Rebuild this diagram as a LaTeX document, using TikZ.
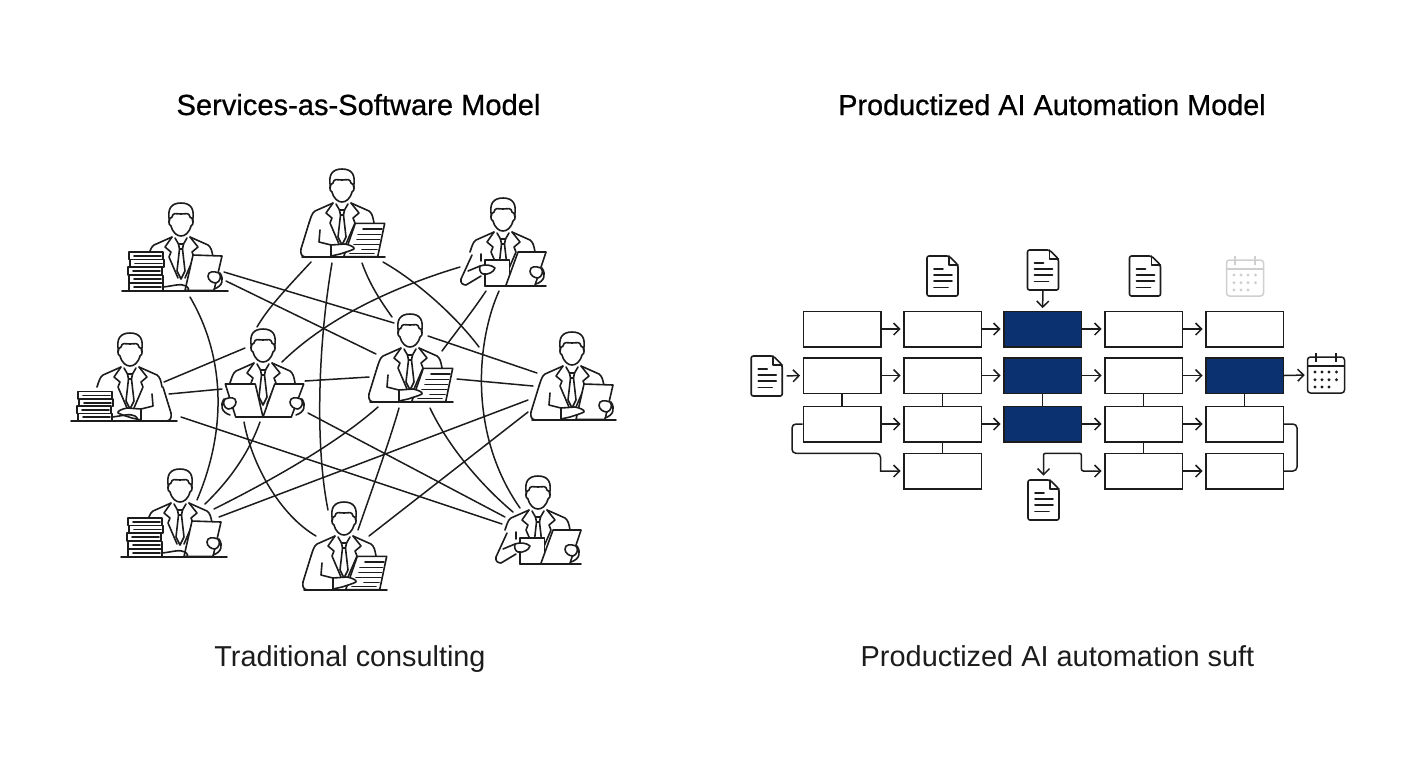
\documentclass[tikz,border=0pt]{standalone}
\usepackage{fontspec}
\setmainfont{Liberation Sans}
\newfontfamily\headfont[FakeBold=0.7]{Liberation Sans}
\usetikzlibrary{arrows.meta, calc}
\definecolor{inkline}{HTML}{1C1C1C}
\definecolor{navybox}{HTML}{0B3170}
\definecolor{greyicon}{HTML}{CFCFCF}
\tikzset{
    fig/.style={inkline, line width=0.8pt, line join=round, line cap=round},
    link/.style={inkline, line width=0.75pt, line cap=round},
    flowbox/.style={draw=inkline, fill=white, line width=0.75pt, minimum width=38.75pt, minimum height=17.75pt, inner sep=0pt},
    flowdark/.style={flowbox, fill=navybox},
    flow/.style={inkline, line width=0.75pt, -{Straight Barb[length=3pt,width=6pt]}, shorten >=1.2pt},
    stub/.style={inkline, line width=0.75pt},
    %Head, torso and shoulders, origin on the desk under the chin:
    pics/man/.style={code={
        \draw[fig] (-11.5,-70) .. controls (-14,-82) and (-10,-88) .. (0,-88) .. controls (10,-88) and (14,-82) .. (11.5,-70);
        \draw[fig] (-9,-74) .. controls (-8,-79) and (-5,-77) .. (0,-77) .. controls (5,-77) and (8,-79) .. (9,-74)
            .. controls (13,-73) and (13,-66) .. (10,-65) .. controls (8,-58) and (4,-55) .. (0,-55)
            .. controls (-4,-55) and (-8,-58) .. (-10,-65) .. controls (-13,-66) and (-13,-73) .. (-9,-74);
        \draw[fig] (-9,-54) -- (-27,-46) .. controls (-30,-44) and (-31,-40) .. (-33,-34);
        \draw[fig] (9,-54) -- (27,-46) .. controls (30,-44) and (31,-40) .. (32,-34);
        \draw[fig] (-9,-54) -- (-16,-44) -- (-10,-39) -- (-12,-34) -- (-3,-13);
        \draw[fig] (9,-54) -- (17,-44) -- (11,-39) -- (13,-34) -- (4,-13);
        \draw[fig] (-6,-53) -- (-2.5,-47) -- (2.5,-47) -- (6,-53);
        \draw[fig] (-2.5,-47) -- (-1.5,-42) -- (1.5,-42) -- (2.5,-47);
        \draw[fig] (-1.5,-42) -- (-4,-20) -- (0,-12) -- (4,-20) -- (1.5,-42);
    }},
    pics/armleft/.style={code={
        \draw[fig] (-33,-34) -- (-41,-8) .. controls (-42,-3) and (-40,0) .. (-36,0);
        \draw[fig] (-22,-27) -- (-23,-15) -- (-11,-12);
        \fill[white] (-11,-12) -- (3,-13) .. controls (8,-12) and (13,-10) .. (12,-8) .. controls (8,-6) and (4,-5) .. (-2,-3) -- (-11,-1);
        \draw[fig] (-11,0) -- (-11,-12) -- (3,-13) .. controls (8,-12) and (13,-10) .. (12,-8) .. controls (8,-6) and (4,-5) .. (-2,-3) -- (-11,-1);
    }},
    pics/desk/.style 2 args={code={\draw[fig] (#1,0) -- (#2,0);}},
    pics/linedpaper/.style={code={
        \draw[fig, fill=white] (13.3,-33.7) -- (42.7,-33.7) -- (35.7,-0.3) -- (1.7,-0.3) -- cycle;
        \foreach \ya/\xa/\xb in {-28/21/40, -22.7/16/38.5, -17.7/15/37.5, -12.7/12/37, -7.7/20/35, -3.7/8/32}
            \draw[fig] (\xa,\ya) -- (\xb,\ya);
    }},
    pics/clipboard/.style={code={
        \draw[fig, fill=white] (12,-36) -- (41,-35) -- (33,-0.5) -- (4,-0.5) -- cycle;
    }},
    pics/grip/.style={code={
        \draw[fig, fill=white] (27,-15) .. controls (27,-20) and (33,-20) .. (38,-18) .. controls (41,-15) and (39,-9) .. (35,-8) .. controls (31,-8) and (27,-11) .. (27,-15);
        \draw[fig] (39,-18) .. controls (43,-12) and (42,-5) .. (33,-2);
    }},
    pics/books/.style={code={
        \foreach \ya/\xa in {#1} {
            \draw[fig, fill=white] (\xa-53,\ya) rectangle (\xa-19,\ya+7.6);
            \draw[fig] (\xa-48,\ya+3.8) -- (\xa-21,\ya+3.8);
        }
    }},
    pics/restinghand/.style={code={
        \draw[fig] (-18,-4) .. controls (-8,-5) and (0,-8) .. (5,-5) .. controls (8,-3) and (8,-1) .. (7,0);
    }},
    pics/pointing/.style={code={
        \draw[fig, fill=white] (-18,-26) rectangle (6.5,0);
        \draw[fig, fill=white] (15,-34) -- (43,-34) -- (31.7,0) -- (2.7,0) -- cycle;
        \draw[fig] (-31,-31) -- (-42,-7) .. controls (-43,-3) and (-40,-1) .. (-37,-1) -- (-22,-10);
        \draw[fig] (-22,-32) -- (-22,-25);
        \draw[fig, fill=white] (-23,-20) .. controls (-18,-22) and (-11,-21) .. (-8,-18) .. controls (-9,-14) and (-15,-11) .. (-20,-12) .. controls (-23,-13) and (-24,-17) .. (-23,-20);
        \draw[fig] (-35,-15) -- (-23,-20);
    }},
    %Variants of the man, one for each thing he holds:
    pics/paperman/.style={code={\pic {man}; \pic {linedpaper}; \pic {armleft}; \pic {desk={-40}{43}};}},
    pics/stackman/.style={code={\pic {man}; \pic {books={-39/1,-31.4/2,-23.8/0,-15.6/1,-7.8/1}}; \pic {clipboard}; \pic {grip}; \pic {restinghand}; \pic {desk={-59}{47}};}},
    pics/boardman/.style={code={\pic {man}; \pic {clipboard}; \pic {armleft}; \pic {grip}; \pic {desk={-40}{44}};}},
    pics/pileman/.style={code={\pic {man}; \pic[xscale=-1] {armleft}; \pic {books={-29.5/1,-22/2,-15/0,-7.6/1}}; \pic {restinghand}; \pic {desk={-59}{47}};}},
    pics/pointman/.style={code={\pic {man}; \pic {pointing}; \pic {grip}; \pic {desk={-18}{43}};}},
    pics/twoboardman/.style={code={
        \pic {man};
        \draw[fig, fill=white] (-37.7,-33) -- (-7.7,-33) -- (0,0) -- (-27.3,0) -- cycle;
        \draw[fig, fill=white] (11.7,-33) -- (40.7,-33) -- (28.3,0) -- (0,0) -- cycle;
        \pic {grip}; \pic[xscale=-1] {grip}; \pic {desk={-27}{28}};
    }},
    pics/docicon/.style={code={
        \node[minimum width=15.5pt, minimum height=20pt, inner sep=0pt] (-box) at (0,0) {};
        \draw[fig, rounded corners=1pt, fill=white] (-15.5,-20) -- (6.5,-20) -- (15.5,-11) -- (15.5,20) -- (-15.5,20) -- cycle;
        \draw[fig] (6.5,-20) -- (6.5,-11) -- (15.5,-11);
        \draw[fig] (-8.5,-7.3) -- (0.5,-7.3);
        \draw[fig] (-8.5,-1) -- (9.5,-1);
        \draw[fig] (-8.5,5) -- (9.5,5);
        \draw[fig] (-8.5,11.3) -- (5.5,11.3);
    }},
    pics/calicon/.style={code={
        \node[minimum width=18.5pt, minimum height=18pt, inner sep=0pt] (-box) at (0,0) {};
        \draw[#1, line width=0.75pt, rounded corners=1.5pt] (-18.5,-18) rectangle (18.5,18);
        \draw[#1, line width=0.75pt] (-18.5,-9) -- (18.5,-9);
        \draw[#1, line width=0.75pt] (-10,-22) -- (-10,-13);
        \draw[#1, line width=0.75pt] (10,-22) -- (10,-13);
        \foreach \xa in {-11,-4,3,10.5} {
            \fill[#1] (\xa,-3) circle (0.8pt);
            \fill[#1] (\xa,4.7) circle (0.8pt);
        }
        \foreach \xa in {-11,-4,3}
            \fill[#1] (\xa,12) circle (0.8pt);
    }},
}

\begin{document}
\begin{tikzpicture}[x=0.5pt, y=-0.5pt]
    \useasboundingbox (0,0) rectangle (1408,768);
    %Headings and captions:
    \node[font=\headfont\fontsize{14.55pt}{16pt}\selectfont, text=black, anchor=base] (headleft) at (358.5,115) {Services-as-Software Model};
    \node[font=\headfont\fontsize{14.4pt}{16pt}\selectfont, text=black, anchor=base] (headright) at (1052,115) {Productized AI Automation Model};
    \node[font=\fontsize{14.4pt}{16pt}\selectfont, text=inkline, anchor=base] (captleft) at (350,666) {Traditional consulting};
    \node[font=\fontsize{14.45pt}{16pt}\selectfont, text=inkline, anchor=base] (captright) at (1057.5,666) {Productized AI automation suft};

    %The people, coordinate on the desk under each head:
    \coordinate (manTL) at (181,291);
    \coordinate (manT) at (342,257);
    \coordinate (manTR) at (503,286);
    \coordinate (manL) at (130,421);
    \coordinate (manCL) at (263,417);
    \coordinate (manC) at (410,402);
    \coordinate (manR) at (572,420);
    \coordinate (manBL) at (180,557);
    \coordinate (manB) at (344,590);
    \coordinate (manBR) at (538,564);
    \pic at (manTL) {stackman};
    \pic at (manT) {paperman};
    \pic at (manTR) {pointman};
    \pic at (manL) {pileman};
    \pic at (manCL) {twoboardman};
    \pic at (manC) {paperman};
    \pic at (manR) {boardman};
    \pic at (manBL) {stackman};
    \pic at (manB) {paperman};
    \pic at (manBR) {pointman};

    %Tangle between the people:
    \draw[link] ($(manTL)+(43,-19)$) -- ($(manC)+(-16,-79)$);
    \draw[link] ($(manTL)+(45,-10)$) -- ($(manC)+(-34,-48)$);
    \draw[link] ($(manTL)+(9,6)$) .. controls (224,355) and (228,427) .. ($(manBL)+(17,-57)$);
    \draw[link] ($(manT)+(-31,5)$) .. controls (285,290) and (268,308) .. ($(manCL)+(-6,-90)$);
    \draw[link] ($(manT)+(-10,6)$) .. controls (318,345) and (315,445) .. ($(manB)+(-16,-80)$);
    \draw[link] ($(manT)+(20,6)$) .. controls (370,285) and (380,300) .. ($(manC)+(-18,-85)$);
    \draw[link] ($(manT)+(41,5)$) .. controls (415,280) and (455,315) .. ($(manR)+(-93,-73)$);
    \draw[link] ($(manTR)+(-43,-19)$) .. controls (400,285) and (330,315) .. ($(manCL)+(19,-55)$);
    \draw[link] ($(manTR)+(-17,5)$) .. controls (472,312) and (456,332) .. ($(manC)+(32,-51)$);
    \draw[link] ($(manTR)+(-4,5)$) .. controls (475,345) and (470,437) .. ($(manBR)+(-18,-56)$);
    \draw[link] ($(manL)+(34,-39)$) -- ($(manCL)+(-18,-69)$);
    \draw[link] ($(manL)+(39,-27)$) -- ($(manCL)+(-41,-28)$);
    \draw[link] ($(manL)+(51,-4)$) -- ($(manBR)+(-36,-40)$);
    \draw[link] ($(manCL)+(42,-36)$) -- ($(manC)+(-41,-25)$);
    \draw[link] ($(manCL)+(-3,5)$) .. controls (250,450) and (232,478) .. ($(manBL)+(25,-53)$);
    \draw[link] ($(manCL)+(-19,5)$) .. controls (252,465) and (280,515) .. ($(manB)+(-28,-54)$);
    \draw[link] ($(manCL)+(45,-4)$) -- ($(manBR)+(-33,-47)$);
    \draw[link] ($(manC)+(-32,5)$) .. controls (335,445) and (268,482) .. ($(manBL)+(34,-48)$);
    \draw[link] ($(manC)+(-11,6)$) .. controls (390,440) and (370,495) .. ($(manB)+(14,-60)$);
    \draw[link] ($(manC)+(20,6)$) .. controls (445,440) and (475,480) .. ($(manBR)+(-25,-52)$);
    \draw[link] ($(manC)+(47,-23)$) -- ($(manR)+(-39,-34)$);
    \draw[link] ($(manC)+(18,-66)$) -- ($(manR)+(-35,-47)$);
    \draw[link] ($(manR)+(-44,-20)$) -- ($(manBL)+(39,-40)$);
    \draw[link] ($(manR)+(-44,-8)$) -- ($(manB)+(25,-54)$);

    %Grid of steps:
    \foreach \nm/\xa/\ya in {ra1/842/329, ra2/942.5/329, ra4/1143.5/329, ra5/1244.5/329,
                             rb1/842/375.5, rb2/942.5/375.5, rb4/1143.5/375.5,
                             rc1/842/424, rc2/942.5/424, rc4/1143.5/424, rc5/1244.5/424,
                             rd2/942.5/471, rd4/1143.5/471, rd5/1244.5/471}
        \node[flowbox] (\nm) at (\xa,\ya) {};
    \foreach \nm/\xa/\ya in {ra3/1042.5/329, rb3/1042.5/375.5, rc3/1042.5/424, rb5/1244.5/375.5}
        \node[flowdark] (\nm) at (\xa,\ya) {};
    %Links inside the grid:
    \foreach \p/\q in {ra1/ra2, ra2/ra3, ra3/ra4, ra4/ra5, rb1/rb2, rb2/rb3, rb3/rb4, rb4/rb5,
                       rc1/rc2, rc2/rc3, rc3/rc4, rc4/rc5, rd4/rd5}
        \draw[flow] (\p) -- (\q);
    \foreach \p/\q in {rb1/rc1, rb2/rc2, rb3/rc3, rb4/rc4, rb5/rc5, rc2/rd2, rc4/rd4}
        \draw[stub] (\p) -- (\q);
    %Icons:
    \pic (doca) at (942.5,276) {docicon};
    \pic (docb) at (1043,270) {docicon};
    \pic (docc) at (1145,276) {docicon};
    \pic (docl) at (766.7,376) {docicon};
    \pic (docd) at (1043.5,500) {docicon};
    \pic (calgrey) at (1245,278) {calicon=greyicon};
    \pic (calout) at (1326,375) {calicon=inkline};
    %Arrows to and from the icons:
    \draw[flow] (docb-box.south) -- (ra3.north);
    \draw[flow, shorten <=2pt] (docl-box.east) -- (rb1.west);
    \draw[flow] (rb5.east) -- (calout-box.west);
    \coordinate (loopleft) at (792,453.3);
    \coordinate (loopturn) at (1081.4,453.3);
    \draw[flow] (rc1.west) [rounded corners=2pt] -| (loopleft) -- (880.5,453.3) [rounded corners=0pt] |- (rd2.west);
    \draw[flow, {Straight Barb[length=3pt,width=6pt]}-{Straight Barb[length=3pt,width=6pt]}, shorten <=2pt, rounded corners=1pt] (docd-box.north) |- (loopturn) |- (rd4.west);
    \draw[stub, rounded corners=2pt] (rc5.east) -- (1297,424) -- (1297,471) -- (rd5.east);
\end{tikzpicture}
\end{document}
